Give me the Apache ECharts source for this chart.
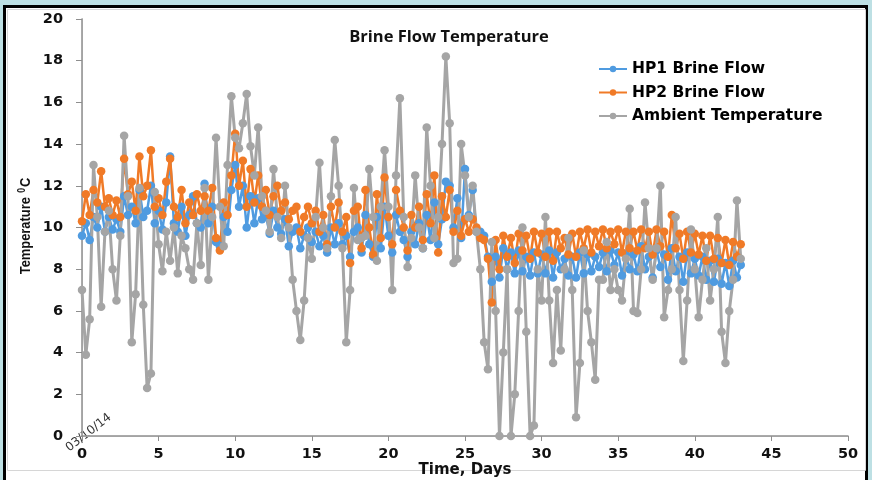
<!DOCTYPE html>
<html>
<head>
<meta charset="utf-8">
<script src="https://cdn.jsdelivr.net/npm/echarts@6/dist/echarts.min.js"></script>
<style>
  html, body { margin: 0; padding: 0; width: 872px; height: 480px; overflow: hidden; background: #bde0e4; }
  #chart { position: absolute; left: 0; top: 0; width: 872px; height: 480px; }
</style>
</head>
<body>
<div id="chart"></div>
<script>
// Sampling interval of the logged temperatures, in days
const STEP = 0.25;

const seriesNames = ['HP1 Brine Flow', 'HP2 Brine Flow', 'Ambient Temperature'];
const xTicks = [0, 5, 10, 15, 20, 25, 30, 35, 40, 45, 50];
const yTicks = [0, 2, 4, 6, 8, 10, 12, 14, 16, 18, 20];
const startDate = '03/10/14';

// HP1 brine flow temperature, °C (four readings per day)
const hp1 = [
  9.6, 10.2, 9.4, 10.5,
  10.0, 11.0, 9.8, 10.5,
  9.9, 10.4, 9.8, 11.5,
  10.6, 11.0, 10.2, 11.8,
  10.5, 10.8, 12.0, 10.2,
  10.8, 9.9, 11.2, 13.4,
  10.2, 9.8, 11.0, 9.6,
  10.6, 11.5, 10.2, 10.0,
  12.1, 10.2, 11.0, 9.3,
  9.1, 10.5, 9.8, 11.8,
  13.0, 11.0, 12.0, 10.0,
  11.5, 10.2, 11.4, 10.4,
  10.6, 9.7, 10.8, 10.0,
  9.7, 10.4, 9.1, 9.8,
  10.0, 9.0, 9.6, 10.0,
  9.3, 9.8, 9.1, 9.6,
  8.8, 10.0, 9.2, 10.2,
  9.2, 9.6, 8.6, 9.8,
  10.0, 8.8, 10.6, 9.2,
  8.6, 10.5, 9.0, 11.0,
  9.6, 8.8, 10.6, 9.8,
  9.4, 8.6, 9.8, 9.2,
  10.2, 9.0, 10.6, 9.4,
  11.2, 9.2, 10.4, 12.2,
  12.0, 10.0, 11.4, 9.5,
  12.8, 10.6, 11.8, 9.8,
  9.8, 9.6, 8.6, 7.4,
  8.6, 7.6, 9.0, 8.0,
  8.8, 7.8, 8.9, 7.9,
  8.6, 7.7, 8.8, 7.8,
  8.7, 7.8, 8.9, 7.6,
  8.8, 8.0, 8.5, 7.7,
  8.6, 7.6, 8.8, 7.8,
  8.7, 7.9, 8.6, 8.1,
  8.8, 7.9, 8.9, 8.2,
  8.8, 7.7, 8.7, 8.0,
  8.7, 7.9, 9.1, 8.0,
  8.6, 7.6, 8.9, 8.1,
  8.7, 7.5, 9.0, 7.9,
  8.6, 7.4, 8.8, 7.8,
  8.5, 7.7, 8.6, 7.5,
  8.4, 7.4, 8.5, 7.3,
  8.3, 7.2, 8.4, 7.6,
  8.2
];

// HP2 brine flow temperature, °C
const hp2 = [
  10.3, 11.6, 10.6, 11.8,
  11.2, 12.7, 11.0, 11.4,
  10.6, 11.3, 10.5, 13.3,
  11.6, 12.2, 10.8, 13.4,
  11.5, 12.0, 13.7, 11.0,
  11.4, 10.6, 12.2, 13.3,
  11.0, 10.5, 11.8, 10.2,
  11.2, 10.6, 11.6, 10.8,
  11.5, 10.8, 11.9, 9.5,
  8.9, 11.2, 10.6, 12.5,
  14.5, 12.0, 13.2, 11.0,
  12.8, 11.2, 12.5, 11.0,
  11.8, 10.6, 11.5, 12.0,
  10.8, 11.2, 10.4, 10.8,
  11.0, 9.8, 10.5, 11.0,
  10.2, 10.8, 9.8, 10.6,
  9.2, 11.0, 10.0, 11.2,
  9.8, 10.5, 8.3, 10.8,
  11.0, 9.0, 11.8, 10.0,
  8.7, 11.6, 9.5, 12.4,
  10.5, 9.2, 11.8, 10.8,
  10.0, 8.9, 10.6, 10.0,
  11.0, 9.4, 11.6, 10.2,
  12.5, 8.8, 11.5, 10.5,
  11.8, 9.8, 10.8, 9.6,
  10.4, 9.8, 10.4, 10.0,
  9.5, 9.4, 8.5, 6.4,
  9.4, 8.0, 9.6, 8.6,
  9.5, 8.3, 9.7, 8.9,
  9.6, 8.5, 9.8, 8.8,
  9.7, 8.6, 9.8, 8.4,
  9.8, 9.0, 9.5, 8.7,
  9.7, 8.6, 9.8, 9.0,
  9.9, 8.8, 9.8, 9.1,
  9.9, 9.0, 9.8, 9.2,
  9.9, 8.8, 9.8, 9.0,
  9.8, 8.9, 9.9, 9.0,
  9.8, 8.7, 9.9, 9.1,
  9.8, 8.6, 10.6, 9.0,
  9.7, 8.5, 9.8, 8.8,
  9.7, 8.7, 9.6, 8.4,
  9.6, 8.5, 9.5, 8.3,
  9.4, 8.2, 9.3, 8.6,
  9.2
];

// Ambient air temperature, °C
const ambient = [
  7.0, 3.9, 5.6, 13.0,
  10.5, 6.2, 9.8, 10.8,
  8.0, 6.5, 9.6, 14.4,
  11.5, 4.5, 6.8, 11.9,
  6.3, 2.3, 3.0, 11.7,
  9.2, 7.9, 9.8, 8.4,
  10.0, 7.8, 9.6, 9.0,
  8.0, 7.5, 10.2, 8.2,
  11.9, 7.5, 10.5, 14.3,
  11.0, 9.1, 13.0, 16.3,
  14.3, 13.8, 15.0, 16.4,
  13.9, 12.5, 14.8, 11.5,
  10.8, 9.8, 12.8, 10.5,
  9.5, 12.0, 10.0, 7.5,
  6.0, 4.6, 6.5, 9.5,
  8.5, 10.5, 13.1, 10.0,
  9.0, 11.5, 14.2, 12.0,
  9.0, 4.5, 7.0, 11.9,
  9.4, 9.5, 9.6, 12.8,
  10.5, 8.4, 11.0, 13.7,
  11.0, 7.0, 12.5, 16.2,
  10.5, 8.1, 9.5, 12.5,
  10.0, 9.0, 14.8, 12.0,
  9.5, 10.5, 14.0, 18.2,
  15.0, 8.3, 8.5, 14.0,
  12.5, 10.5, 12.0, 9.8,
  8.0, 4.5, 3.2, 9.3,
  6.0, 0.0, 4.0, 8.0,
  0.0, 2.0, 6.0, 10.0,
  5.0, 0.0, 0.5, 8.0,
  6.5, 10.5, 6.5, 3.5,
  7.0, 4.1, 8.0, 9.5,
  7.0, 0.9, 3.5, 8.9,
  6.0, 4.5, 2.7, 7.5,
  7.5, 9.3, 7.0, 8.0,
  7.0, 6.5, 8.5, 10.9,
  6.0, 5.9, 8.0, 11.2,
  9.0, 7.5, 9.0, 12.0,
  5.7, 7.0, 8.0, 10.5,
  7.0, 3.6, 6.5, 9.9,
  8.0, 5.7, 7.5, 9.0,
  6.5, 8.0, 10.5, 5.0,
  3.5, 6.0, 7.5, 11.3,
  8.5
];

const colors = ['#4f9be0', '#f07a27', '#a5a5a5'];

function toPoints(values) {
  return values.map((v, i) => [i * STEP, v]);
}

function makeSeries(name, values, color, width) {
  return {
    name: name,
    type: 'line',
    data: toPoints(values),
    clip: false,
    symbol: 'circle',
    symbolSize: 8.5,
    showSymbol: true,
    showAllSymbol: true,
    lineStyle: { color: color, width: width },
    itemStyle: { color: color, borderWidth: 0 }
  };
}

const labelFont = 'DejaVu Sans';

const chart = echarts.init(document.getElementById('chart'), null, { renderer: 'canvas' });
chart.setOption({
  backgroundColor: 'transparent',
  animation: false,
  color: colors,
  title: {
    text: 'Brine Flow Temperature',
    left: 444,
    top: 24,
    textAlign: 'center',
    textStyle: { fontFamily: 'Open Sans', fontWeight: 'bold', fontSize: 16.5, color: '#111' }
  },
  legend: {
    orient: 'vertical',
    left: 598,
    top: 61,
    padding: 0,
    itemWidth: 28,
    itemHeight: 8,
    itemGap: 7.5,
    textStyle: { fontFamily: labelFont, fontWeight: 'bold', fontSize: 15.5, color: '#000' },
    data: seriesNames
  },
  grid: {
    left: 82, right: 24, top: 19, bottom: 44,
    containLabel: false,
    outerBoundsMode: 'none'
  },
  xAxis: [{
    type: 'value',
    min: 0, max: 50, interval: 5,
    name: 'Time, Days',
    nameLocation: 'middle',
    nameGap: 27,
    nameMoveOverlap: false,
    nameTextStyle: { fontFamily: labelFont, fontWeight: 'bold', fontSize: 15, color: '#111' },
    axisLine: { lineStyle: { color: '#8e8e8e', width: 1.5 } },
    axisTick: { show: true, length: 5, lineStyle: { color: '#8e8e8e' } },
    splitLine: { show: false },
    axisLabel: {
      margin: 11,
      fontFamily: labelFont, fontWeight: 'bold', fontSize: 14.5, color: '#111',
      formatter: v => xTicks.includes(v) ? String(v) : ''
    }
  }, {
    // plain frame line along the top of the plot
    type: 'value', position: 'top', min: 0, max: 50,
    axisLine: { show: true, lineStyle: { color: '#a3a3a3', width: 1 } },
    axisTick: { show: false }, axisLabel: { show: false }, splitLine: { show: false }
  }],
  yAxis: [{
    type: 'value',
    min: 0, max: 20, interval: 2,
    axisLine: { show: true, lineStyle: { color: '#8e8e8e', width: 1.5 } },
    axisTick: { show: true, length: 6, lineStyle: { color: '#8e8e8e' } },
    splitLine: { show: false },
    axisLabel: {
      margin: 19,
      fontFamily: labelFont, fontWeight: 'bold', fontSize: 14.5, color: '#111',
      formatter: v => yTicks.includes(v) ? String(v) : ''
    }
  }, {
    // plain frame line along the right of the plot
    type: 'value', position: 'right', min: 0, max: 20,
    axisLine: { show: true, lineStyle: { color: '#a3a3a3', width: 1 } },
    axisTick: { show: false }, axisLabel: { show: false }, splitLine: { show: false }
  }],
  graphic: [
    {
      // page backdrop
      type: 'rect', z: -30, silent: true,
      shape: { x: 0, y: 0, width: 872, height: 480 },
      style: { fill: '#bde0e4' }
    },
    {
      // black-edged white panel holding the chart
      type: 'rect', z: -20, silent: true,
      shape: { x: 4.5, y: 6.5, width: 862, height: 490 },
      style: { fill: '#ffffff', stroke: '#000000', lineWidth: 3 }
    },
    {
      type: 'rect', z: -10, silent: true,
      shape: { x: 7.5, y: 9.5, width: 858, height: 461 },
      style: { fill: 'none', stroke: '#d6d6d6', lineWidth: 1 }
    },
    {
      // vertical axis title, slightly condensed
      type: 'text',
      x: 26,
      y: 226,
      rotation: Math.PI / 2,
      scaleX: 0.86,
      style: {
        text: 'Temperature {sup|0}C',
        fontFamily: 'Liberation Sans',
        fontWeight: 'bold',
        fontSize: 15,
        fill: '#111',
        textAlign: 'center',
        textVerticalAlign: 'middle',
        rich: {
          sup: { fontFamily: 'Liberation Sans', fontWeight: 'bold', fontSize: 10, fill: '#111', padding: [0, 1, 7, 1] }
        }
      }
    },
    {
      type: 'text',
      x: 71,
      y: 454,
      rotation: 0.66,
      style: {
        text: startDate,
        fontFamily: labelFont,
        fontSize: 12,
        fill: '#333',
        textAlign: 'left',
        textVerticalAlign: 'bottom'
      }
    }
  ],
  series: [
    makeSeries(seriesNames[0], hp1, colors[0], 2.5),
    makeSeries(seriesNames[1], hp2, colors[1], 2.5),
    makeSeries(seriesNames[2], ambient, colors[2], 3)
  ]
});
</script>
</body>
</html>
